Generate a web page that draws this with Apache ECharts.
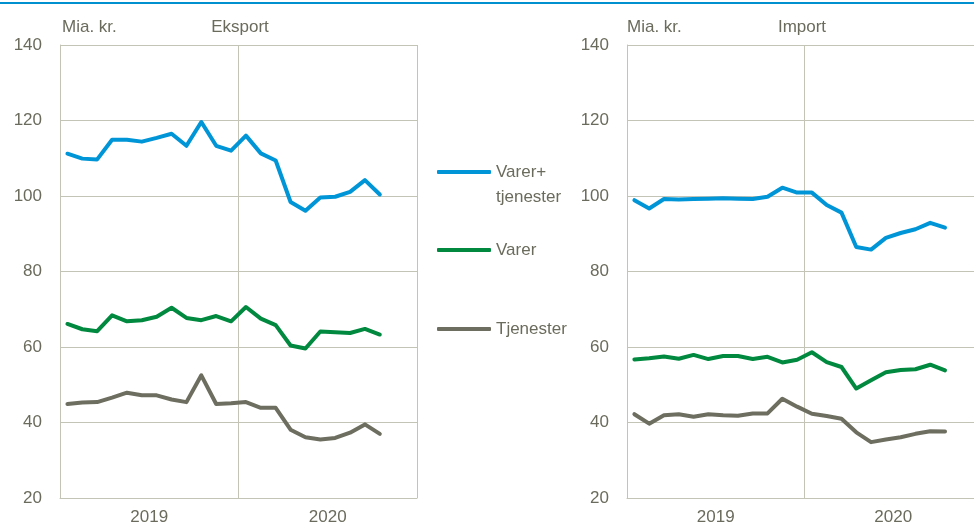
<!DOCTYPE html>
<html>
<head>
<meta charset="utf-8">
<script src="https://cdn.jsdelivr.net/npm/echarts@6/dist/echarts.min.js"></script>
<style>
html,body{margin:0;padding:0;background:#fff;}
#chart{width:974px;height:526px;}
</style>
</head>
<body>
<div id="chart"></div>
<script>
// Categories: monthly, Jan 2019 - Dec 2020
const months = ['2019-01','2019-02','2019-03','2019-04','2019-05','2019-06','2019-07','2019-08','2019-09','2019-10','2019-11','2019-12',
                '2020-01','2020-02','2020-03','2020-04','2020-05','2020-06','2020-07','2020-08','2020-09','2020-10','2020-11','2020-12'];
const years = ['2019', '2020'];
const yTicks = [20, 40, 60, 80, 100, 120, 140];
const seriesNames = ['Varer+ tjenester', 'Varer', 'Tjenester'];

// Eksport (Mia. kr.)
const exportTotal    = [111.2,109.9,109.7,114.9,114.9,114.4,115.4,116.5,113.3,119.6,113.3,112.0,116.0,111.3,109.4,98.4,96.1,99.6,99.8,101.1,104.2,100.4];
const exportGoods    = [66.1,64.7,64.2,68.4,66.8,67.1,68.0,70.4,67.7,67.1,68.2,66.8,70.6,67.5,65.8,60.4,59.6,64.1,63.9,63.7,64.8,63.3];
const exportServices = [44.9,45.3,45.4,46.6,47.9,47.2,47.2,46.1,45.4,52.5,44.9,45.1,45.4,43.9,43.9,38.1,36.1,35.5,35.9,37.3,39.5,37.0];

// Import (Mia. kr.)
const importTotal    = [98.9,96.7,99.2,99.1,99.2,99.3,99.4,99.3,99.2,99.8,102.2,100.9,100.9,97.6,95.6,86.5,85.8,88.9,90.2,91.2,92.9,91.6];
const importGoods    = [56.7,57.0,57.5,56.9,57.9,56.8,57.6,57.6,56.8,57.4,55.9,56.6,58.6,56.0,54.7,49.0,51.2,53.3,53.9,54.1,55.3,53.8];
const importServices = [42.2,39.7,41.9,42.2,41.5,42.2,41.9,41.8,42.4,42.4,46.3,44.2,42.3,41.7,41.0,37.4,34.8,35.5,36.1,37.0,37.7,37.6];

const colors = ['#0095d6', '#00893f', '#6e6e60'];
const textColor = '#6b6b5d';
const gridColor = '#c4c4b6';
const fontFamily = "'Liberation Sans', Arial, sans-serif";

const chart = echarts.init(document.getElementById('chart'), null, {renderer: 'canvas'});

function monthAxis(gridIndex) {
  return {
    type: 'category', gridIndex: gridIndex, data: months, boundaryGap: true,
    axisLine: {show: false}, axisTick: {show: false}, axisLabel: {show: false}, splitLine: {show: false}
  };
}
function yearAxis(gridIndex) {
  return {
    type: 'category', gridIndex: gridIndex, data: years, boundaryGap: true, position: 'bottom',
    axisLine: {show: true, lineStyle: {color: gridColor, width: 1}},
    axisTick: {show: false},
    axisLabel: {show: true, color: textColor, fontSize: 17, fontFamily: fontFamily, margin: 11},
    splitLine: {show: true, lineStyle: {color: gridColor, width: 1}}
  };
}
function valueAxis(gridIndex) {
  return {
    type: 'value', gridIndex: gridIndex, min: yTicks[0], max: yTicks[yTicks.length - 1], interval: 20,
    axisLine: {show: true, lineStyle: {color: gridColor, width: 1}},
    axisTick: {show: false},
    axisLabel: {color: textColor, fontSize: 17, fontFamily: fontFamily, margin: 18},
    splitLine: {show: true, lineStyle: {color: gridColor, width: 1}}
  };
}
function lineSeries(name, data, colorIdx, xIdx, yIdx) {
  return {
    name: name, type: 'line', data: data, xAxisIndex: xIdx, yAxisIndex: yIdx,
    symbol: 'none', smooth: false, animation: false,
    lineStyle: {color: colors[colorIdx], width: 4, cap: 'round', join: 'round'},
    itemStyle: {color: colors[colorIdx]}
  };
}

const legendBase = {
  orient: 'vertical', left: 437, padding: 0, itemWidth: 54, itemHeight: 4, icon: 'roundRect',
  selectedMode: false,
  textStyle: {color: textColor, fontSize: 17, fontFamily: fontFamily, lineHeight: 25}
};
const titleStyle = {color: textColor, fontSize: 17, fontWeight: 'normal', fontFamily: fontFamily};

const option = {
  backgroundColor: '#ffffff',
  animation: false,
  color: colors,
  grid: [
    {left: 60, top: 45, width: 357, height: 453, containLabel: false, outerBoundsMode: 'none'},
    {left: 627, top: 45, width: 355, height: 453, containLabel: false, outerBoundsMode: 'none'}
  ],
  title: [
    {text: 'Mia. kr.', left: 62, top: 19, padding: 0, textStyle: titleStyle},
    {text: 'Eksport', left: 240, top: 19, padding: 0, textAlign: 'center', textStyle: titleStyle},
    {text: 'Mia. kr.', left: 627, top: 19, padding: 0, textStyle: titleStyle},
    {text: 'Import', left: 802, top: 19, padding: 0, textAlign: 'center', textStyle: titleStyle}
  ],
  legend: [
    Object.assign({}, legendBase, {data: [seriesNames[0]], top: 134.5,
      formatter: function (n) { return ' \nVarer+\ntjenester'; }}),
    Object.assign({}, legendBase, {data: [seriesNames[1]], top: 237.5}),
    Object.assign({}, legendBase, {data: [seriesNames[2]], top: 316.5})
  ],
  xAxis: [monthAxis(0), yearAxis(0), monthAxis(1), yearAxis(1)],
  yAxis: [valueAxis(0), valueAxis(1)],
  series: [
    lineSeries(seriesNames[0], exportTotal, 0, 0, 0),
    lineSeries(seriesNames[1], exportGoods, 1, 0, 0),
    lineSeries(seriesNames[2], exportServices, 2, 0, 0),
    lineSeries(seriesNames[0], importTotal, 0, 2, 1),
    lineSeries(seriesNames[1], importGoods, 1, 2, 1),
    lineSeries(seriesNames[2], importServices, 2, 2, 1)
  ],
  graphic: [
    {type: 'rect', left: 0, top: 2, shape: {width: 974, height: 2}, style: {fill: '#0090cf'}, silent: true}
  ]
};
chart.setOption(option);
</script>
</body>
</html>
